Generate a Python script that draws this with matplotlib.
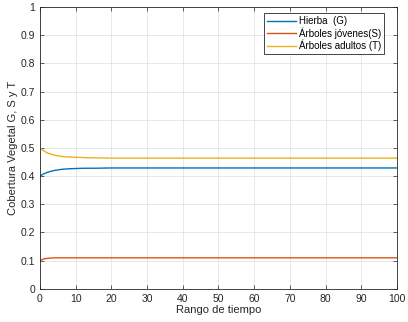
import matplotlib
matplotlib.use("Agg")
import matplotlib.pyplot as plt
import numpy as np

# time points and cover fractions
t = [0, 1, 2, 3, 4, 5, 6, 8, 10, 12, 15, 20, 100]
hierba = [0.400, 0.408, 0.413, 0.417, 0.420, 0.422, 0.424, 0.426, 0.427, 0.428, 0.428, 0.429, 0.429]
arboles_jov = [0.100, 0.106, 0.108, 0.109, 0.110, 0.110, 0.110, 0.110, 0.110, 0.110, 0.110, 0.110, 0.110]
arboles_adu = [0.500, 0.490, 0.483, 0.478, 0.475, 0.472, 0.470, 0.468, 0.467, 0.466, 0.465, 0.464, 0.464]

plt.rcParams["font.family"] = ["Liberation Sans", "DejaVu Sans"]

fig = plt.figure(figsize=(4.08, 3.22), dpi=100)
ax = fig.add_axes([0.098, 0.103, 0.875, 0.875])

ax.plot(t, hierba, color="#0072BD", linewidth=1, label="Hierba  (G)")
ax.plot(t, arboles_jov, color="#D95319", linewidth=1, label="Árboles jóvenes(S)")
ax.plot(t, arboles_adu, color="#EDB120", linewidth=1, label="Árboles adultos (T)")

ax.set_xlim(0, 100)
ax.set_ylim(0, 1)
ax.set_xticks(np.arange(0, 101, 10))
ax.set_yticks(np.arange(0, 1.01, 0.1))
ax.set_yticklabels(["0", "0.1", "0.2", "0.3", "0.4", "0.5", "0.6", "0.7", "0.8", "0.9", "1"])
ax.tick_params(direction="in", labelsize=7.5, colors="#262626", length=3, width=0.5,
               top=True, right=True)
ax.grid(True, color="#dfdfdf", linewidth=0.5)
for s in ax.spines.values():
    s.set_color("#262626")
    s.set_linewidth(0.6)

ax.set_xlabel("Rango de tiempo", fontsize=8, color="#262626", labelpad=1)
ax.set_ylabel("Cobertura Vegetal G, S y T", fontsize=8, color="#262626", labelpad=2)

leg = ax.legend(loc="upper right", bbox_to_anchor=(0.965, 0.978), fontsize=7,
                fancybox=False, framealpha=1, edgecolor="#262626", borderpad=0.3,
                labelspacing=0.1, handlelength=3.0, handletextpad=0.3, borderaxespad=0)
leg.get_frame().set_linewidth(0.6)

fig.savefig("out.png", dpi=100)
